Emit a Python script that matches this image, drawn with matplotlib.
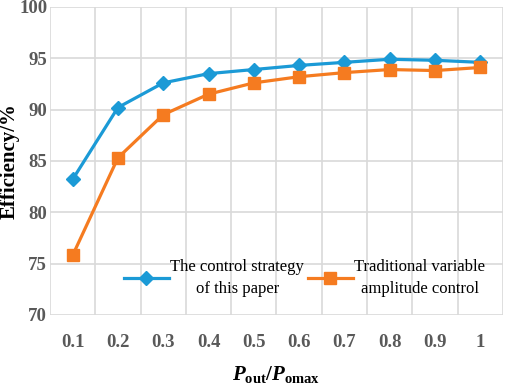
import matplotlib
matplotlib.use("Agg")
import matplotlib.pyplot as plt
import numpy as np

categories = ["0.1", "0.2", "0.3", "0.4", "0.5", "0.6", "0.7", "0.8", "0.9", "1"]
proposed = [83.2, 90.2, 92.6, 93.5, 93.9, 94.3, 94.6, 94.9, 94.8, 94.6]
traditional = [75.8, 85.3, 89.5, 91.5, 92.6, 93.2, 93.6, 93.9, 93.8, 94.1]
labels = ["The control strategy\nof this paper", "Traditional variable\namplitude control"]
yticks = [70, 75, 80, 85, 90, 95, 100]

plt.rcParams['font.family'] = ['Liberation Serif', 'DejaVu Serif']
plt.rcParams['mathtext.fontset'] = 'custom'
plt.rcParams['mathtext.it'] = 'Liberation Serif:italic:bold'
plt.rcParams['mathtext.bf'] = 'Liberation Serif:bold'
plt.rcParams['mathtext.rm'] = 'Liberation Serif:bold'

fig = plt.figure(figsize=(5.05, 3.84), dpi=100)
ax = fig.add_axes([0.099, 0.180, 0.897, 0.802])

x = np.arange(len(categories))
blue = "#1b9ad6"
orange = "#f57b20"
ax.plot(x, proposed, color=blue, lw=2.3, marker="D", markersize=7, label=labels[0], zorder=3)
ax.plot(x, traditional, color=orange, lw=2.3, marker="s", markersize=9, label=labels[1], zorder=3)

ax.set_xlim(-0.5, len(categories) - 0.5)
ax.set_ylim(70, 100)
ax.set_xticks(x)
ax.set_xticklabels(categories)
ax.set_xticks(np.arange(-0.5, len(categories), 1), minor=True)
ax.set_yticks(yticks)
ax.grid(True, which="minor", axis="x", color="#d9d9d9", lw=1.2)
ax.grid(True, which="major", axis="y", color="#d9d9d9", lw=1.2)
ax.set_axisbelow(True)
for s in ax.spines.values():
    s.set_visible(False)
ax.tick_params(axis="both", which="both", length=0)
ax.tick_params(axis="x", pad=14)
ax.tick_params(axis="y", pad=2)
for t in ax.get_xticklabels() + ax.get_yticklabels():
    t.set_fontsize(13.5)
    t.set_fontweight("bold")
    t.set_color("#595959")

fig.text(0.019, 0.18 + 0.802 / 2, "Efficiency/%", rotation=90, fontsize=15,
         fontweight="bold", ha="center", va="center")
ax.set_xlabel(r"$\mathit{P}_{\mathbf{out}}/\mathit{P}_{\mathbf{omax}}$", fontsize=15, labelpad=9)

leg = ax.legend(loc="center", bbox_to_anchor=(0.562, 0.12), ncol=2, frameon=False,
                fontsize=12, handlelength=2.7, columnspacing=0.2, handletextpad=0.1)
for t in leg.get_texts():
    t.set_multialignment("center")
    t.set_linespacing(1.55)

fig.savefig("out.png", dpi=100)
